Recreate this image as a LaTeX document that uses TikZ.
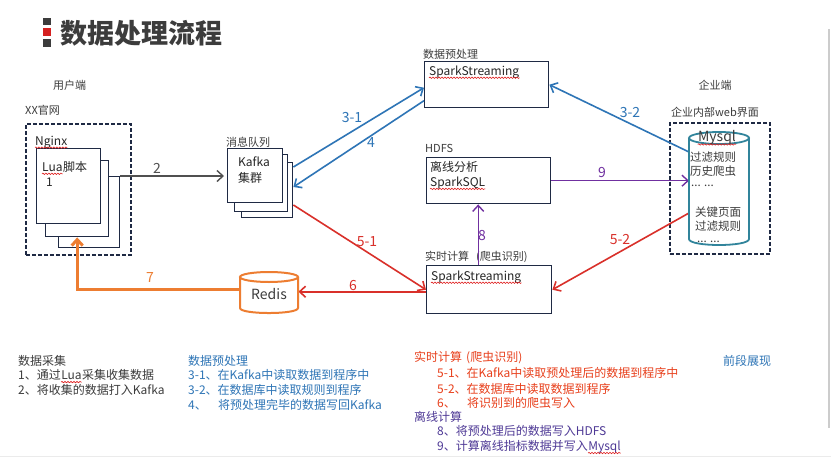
\documentclass[tikz,border=0pt]{standalone}
\usepackage{fontspec}
\setmainfont{Noto Sans CJK SC}
\usetikzlibrary{arrows.meta,calc,decorations.pathmorphing}
\definecolor{tdark}{HTML}{3C3C3C}
\definecolor{tred}{HTML}{D42020}
\definecolor{navy}{HTML}{1F2A44}
\definecolor{bblue}{HTML}{2E75B6}
\definecolor{rred}{HTML}{D9302A}
\definecolor{ttred}{HTML}{E8401C}
\definecolor{ppurple}{HTML}{7030A0}
\definecolor{tpurple}{HTML}{4F3A96}
\definecolor{oorange}{HTML}{ED7D31}
\definecolor{teal}{HTML}{31849B}
\definecolor{ggray}{HTML}{505050}
\definecolor{sqred}{HTML}{E02020}
\tikzset{
  box/.style={draw=navy, line width=1.4pt, fill=white, anchor=north west, inner sep=0pt},
  dbox/.style={draw=navy, line width=1.6pt, dash pattern=on 4pt off 2pt, anchor=north west, inner sep=0pt},
  lbl/.style={font=\fontsize{11}{13}\selectfont, text=tdark, anchor=west, inner sep=0pt},
  btxt/.style={font=\fontsize{12}{14}\selectfont, text=black!85, anchor=west, inner sep=0pt},
  alab/.style={font=\fontsize{14}{16}\selectfont, anchor=center, inner sep=0pt},
  ltxt/.style={font=\fontsize{12}{14}\selectfont, anchor=west, inner sep=0pt},
  chain/.style={anchor=base west, inner sep=0pt},
  squig/.style={draw=sqred, line width=0.6pt, decorate, decoration={snake, amplitude=0.7pt, segment length=3pt}},
  garrow/.style={draw=ggray, line width=1.4pt, ->},
  barrow/.style={draw=bblue, line width=1.6pt, ->},
  rarrow/.style={draw=rred, line width=1.6pt, ->},
  parrow/.style={draw=ppurple, line width=1.4pt, ->},
  oarrow/.style={draw=oorange, line width=3pt, ->},
  rcyl/.style={draw=oorange, line width=2pt},
  mcyl/.style={draw=teal, line width=1.8pt},
}
\newcommand\squigunder[1]{\draw[squig] ([yshift=-2.5pt]#1.base west) -- ([yshift=-2.5pt]#1.base east);}
\begin{document}
\begin{tikzpicture}[x=1pt,y=-1pt,>={Straight Barb[length=6pt,width=11pt]}]
\useasboundingbox (0,0) rectangle (831,458);
\fill[white] (0,0) rectangle (831,458);
\draw[black!20, line width=1.5pt] (829,29) -- (829,428);
\draw[black!8, line width=1pt] (0,456) -- (831,456);

% title
\fill[tdark] (43,18) rectangle (51,25);
\fill[tred] (43,28) rectangle (51,36);
\fill[tdark] (43,39) rectangle (51,47);
\node[anchor=west, font=\fontsize{27}{30}\selectfont\bfseries, text=tdark, inner sep=0pt] (title) at (60,33) {数据处理流程};

% user side
\node[lbl] (userlbl) at (53,85) {用户端};
\node[lbl] (xxlbl) at (25,110) {XX官网};
\node[dbox, minimum width=105, minimum height=131] (userbox) at (25,123) {};
\node[box, minimum width=61, minimum height=71] (lua3) at (58,176) {};
\node[box, minimum width=63, minimum height=76] (lua2) at (45,160) {};
\node[box, minimum width=64, minimum height=75] (lua1) at (36,148) {};
\node[btxt] (nginx) at (35,142) {Nginx};
\squigunder{nginx}
\node[btxt] (luaw) at (42,167) {Lua};
\node[btxt, chain] (luajb) at (luaw.base east) {脚本};
\squigunder{luaw}
\node[btxt] (one) at (46,182) {1};

% kafka
\node[lbl] (mqlbl) at (226,142) {消息队列};
\node[box, minimum width=51, minimum height=55] (k3) at (241,162) {};
\node[box, minimum width=53, minimum height=57] (k2) at (234,154) {};
\node[box, minimum width=55, minimum height=54] (k1) at (227,148) {};
\node[btxt] (kafkatxt) at (238,162) {Kafka};
\node[btxt] (jqtxt) at (238,178) {集群};

% preprocessing
\node[lbl] (prelbl) at (423,54) {数据预处理};
\node[box, minimum width=124, minimum height=46] (pre) at (424,61) {};
\node[btxt] (pretxt) at (429,72) {SparkStreaming};
\squigunder{pretxt}

% hdfs
\node[lbl] (hdfslbl) at (425,148) {HDFS};
\node[box, minimum width=124, minimum height=46] (hdfs) at (426,157) {};
\node[btxt] (hdfstxt1) at (430,167) {离线分析};
\node[btxt] (hdfstxt2) at (430,183) {SparkSQL};
\squigunder{hdfstxt2}

% realtime
\node[lbl] (rtlbl) at (425,257) {实时计算\hspace{7pt}(爬虫识别)};
\node[box, minimum width=125, minimum height=48] (rt) at (426,265) {};
\node[btxt] (rttxt) at (431,277) {SparkStreaming};
\squigunder{rttxt}

% enterprise side
\node[lbl, anchor=center] (entlbl) at (715,85) {企业端};
\node[lbl, anchor=center] (weblbl) at (715,112) {企业内部web界面};
\node[dbox, minimum width=100, minimum height=131] (entbox) at (669,122) {};

% invisible anchors for cylinders
\node[minimum width=60, minimum height=113, inner sep=0pt, anchor=north west] (mysql) at (689,132) {};
\node[minimum width=58, minimum height=41, inner sep=0pt, anchor=north west] (redis) at (240,272) {};

% connectors
\draw[garrow, shorten >=3pt] (lua3.north east) -- (lua3.north east -| k1.west);
\draw[barrow] ([yshift=-5pt]k3.north east) -- ([yshift=-3pt]pre.west);
\draw[barrow] ([yshift=-16pt]pre.west) -- ([yshift=-25pt]k3.north east);
\draw[barrow] ([yshift=-20pt]mysql.north west) -- (pre.east);
\draw[parrow] (hdfs.east) -- (hdfs.east -| mysql.west);
\draw[rarrow] ([yshift=-81pt]mysql.north west) -- (rt.east);
\draw[rarrow] ([yshift=-43pt]k3.north east) -- (rt.west);
\draw[rarrow] ([yshift=-2pt]rt.west) -- ([yshift=-2pt]rt.west -| redis.east);
\draw[oarrow] ([yshift=3pt]redis.west) -| (lua2.south);
\draw[parrow] ([xshift=-11pt]rt.north) -- ([xshift=-11pt]rt.north |- hdfs.south);

% redis cylinder
\fill[white] (240,277) -- (240,308) .. controls (240,314.7) and (298,314.7) .. (298,308) -- (298,277) -- cycle;
\draw[rcyl] (240,277) -- (240,308) .. controls (240,314.7) and (298,314.7) .. (298,308) -- (298,277);
\draw[rcyl, fill=white] (269,277) ellipse [x radius=29, y radius=5];
\node[font=\fontsize{14}{16}\selectfont, text=tdark, inner sep=0pt] (redistxt) at (269,294) {Redis};

% mysql cylinder
\fill[white] (689,138) -- (689,239) .. controls (689,247) and (749,247) .. (749,239) -- (749,138) -- cycle;
\draw[mcyl] (689,138) -- (689,239) .. controls (689,247) and (749,247) .. (749,239) -- (749,138);
\draw[mcyl] (719,138) ellipse [x radius=30, y radius=6];
\node[font=\fontsize{14}{16}\selectfont, text=tdark, inner sep=0pt] (mysqltxt) at (717,138) {Mysql};
\squigunder{mysqltxt}
\node[ltxt, font=\fontsize{11.5}{13}\selectfont, text=tdark] (m1) at (690,157) {过滤规则};
\node[ltxt, font=\fontsize{11.5}{13}\selectfont, text=tdark] (m2) at (690,171) {历史爬虫};
\node[ltxt, font=\fontsize{11.5}{13}\selectfont, text=tdark] (m3) at (691,186) {... ...};
\node[ltxt, font=\fontsize{11.5}{13}\selectfont, text=tdark] (m4) at (695,212) {关键页面};
\node[ltxt, font=\fontsize{11.5}{13}\selectfont, text=tdark] (m5) at (695,226) {过滤规则};
\node[ltxt, font=\fontsize{11.5}{13}\selectfont, text=tdark] (m6) at (697,242) {... ...};

% arrow labels
\node[alab, text=ggray] (l2) at (157,168) {2};
\node[alab, text=bblue] (l31) at (352,118) {3-1};
\node[alab, text=bblue] (l4) at (371,143) {4};
\node[alab, text=bblue] (l32) at (630,113) {3-2};
\node[alab, text=ppurple] (l9) at (602,173) {9};
\node[alab, text=rred] (l52) at (620,240) {5-2};
\node[alab, text=rred] (l51) at (367,242) {5-1};
\node[alab, text=rred] (l6) at (353,286) {6};
\node[alab, text=oorange] (l7) at (150,278) {7};
\node[alab, text=ppurple] (l8) at (482,236) {8};

% legend text
\node[ltxt, text=tdark] (a0) at (18,361) {数据采集};
\node[ltxt, text=tdark] (a1) at (18,375) {1、通过};
\node[ltxt, chain, text=tdark] (a1b) at (a1.base east) {Lua};
\node[ltxt, chain, text=tdark] (a1c) at (a1b.base east) {采集收集数据};
\squigunder{a1b}
\node[ltxt, text=tdark] (a2) at (18,390) {2、将收集的数据打入Kafka};

\node[ltxt, text=bblue] (b0) at (188,361) {数据预处理};
\node[ltxt, text=bblue] (b1) at (188,375) {3-1、在Kafka中读取数据到程序中};
\node[ltxt, text=bblue] (b2) at (188,390) {3-2、在数据库中读取规则到程序};
\node[ltxt, text=bblue] (b3) at (188,405) {\makebox[30pt][l]{4、}将预处理完毕的数据写回Kafka};

\node[ltxt, text=ttred] (c0) at (414,358) {实时计算\hspace{4pt}(爬虫识别)};
\node[ltxt, text=ttred] (c1) at (437,373) {5-1、在Kafka中读取预处理后的数据到程序中};
\node[ltxt, text=ttred] (c2) at (437,389) {5-2、在数据库中读取数据到程序};
\node[ltxt, text=ttred] (c3) at (437,403) {\makebox[30pt][l]{6、}将识别到的爬虫写入};

\node[ltxt, text=tpurple] (d0) at (414,417) {离线计算};
\node[ltxt, text=tpurple] (d1) at (437,431) {8、将预处理后的数据写入HDFS};
\node[ltxt, text=tpurple] (d2) at (437,446) {9、计算离线指标数据并写入};
\node[ltxt, chain, text=tpurple] (d2b) at (d2.base east) {Mysql};
\squigunder{d2b}

\node[ltxt, text=bblue] (e0) at (723,361) {前段展现};
\end{tikzpicture}
\end{document}
